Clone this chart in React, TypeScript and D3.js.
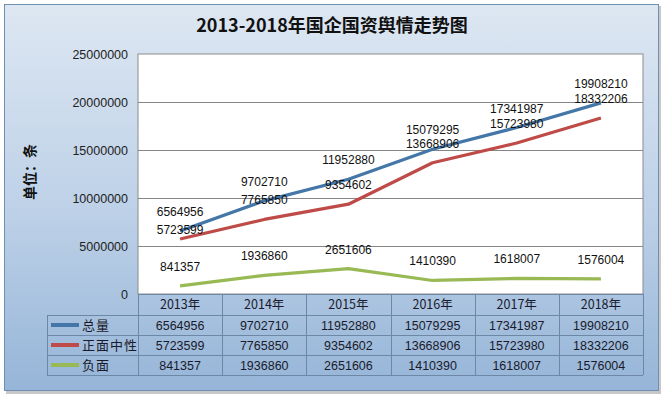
import { useRef, useEffect } from 'react';
import * as d3 from 'd3';

// chart data
const years = ['2013年', '2014年', '2015年', '2016年', '2017年', '2018年'];
const total = [6564956, 9702710, 11952880, 15079295, 17341987, 19908210];
const neutral = [5723599, 7765850, 9354602, 13668906, 15723980, 18332206];
const negative = [841357, 1936860, 2651606, 1410390, 1618007, 1576004];
const yTicks = [0, 5000000, 10000000, 15000000, 20000000, 25000000];

const series = [
  { name: '总量', values: total, color: '#4476A8' },
  { name: '正面中性', values: neutral, color: '#BE4B48' },
  { name: '负面', values: negative, color: '#98B954' },
];

const W = 664;
const H = 397;
const NUM_FONT = '"Liberation Sans", Arial, sans-serif';
const CJK_FONT = '"Noto Sans CJK SC", "Liberation Sans", sans-serif';

export default function App() {
  const ref = useRef<SVGSVGElement | null>(null);

  useEffect(() => {
    if (!ref.current) return;
    const svg = d3.select(ref.current);
    svg.selectAll('*').remove();

    const plot = { left: 138, right: 643, top: 54, bottom: 294 };
    const rowH = 20;
    const headerBottom = 315;
    const legendLeft = 47;

    // background gradient
    const defs = svg.append('defs');
    const bg = defs.append('linearGradient')
      .attr('id', 'bg').attr('x1', 0).attr('y1', 0).attr('x2', 0).attr('y2', 1);
    bg.append('stop').attr('offset', '0%').attr('stop-color', '#DDE7F2');
    bg.append('stop').attr('offset', '55%').attr('stop-color', '#BCD0E7');
    bg.append('stop').attr('offset', '100%').attr('stop-color', '#96B5D8');

    svg.append('rect').attr('width', W).attr('height', H).attr('fill', '#fff');
    // shadow + frame
    svg.append('rect')
      .attr('x', 6).attr('y', 6).attr('width', 655).attr('height', 388)
      .attr('fill', '#c8c8c8');
    svg.append('rect')
      .attr('x', 4.5).attr('y', 4.5).attr('width', 654).attr('height', 386)
      .attr('fill', 'url(#bg)').attr('stroke', '#6f8fb3').attr('stroke-width', 1);

    // title
    svg.append('text')
      .attr('x', 332).attr('y', 32)
      .attr('text-anchor', 'middle')
      .attr('font-family', CJK_FONT).attr('font-weight', 'bold').attr('font-size', 18)
      .attr('fill', '#111')
      .text('2013-2018年国企国资舆情走势图');

    // y axis title
    svg.append('text')
      .attr('transform', 'translate(35,172) rotate(-90)')
      .attr('text-anchor', 'middle')
      .attr('font-family', CJK_FONT).attr('font-weight', 'bold').attr('font-size', 14)
      .attr('fill', '#111')
      .text('单位：条');

    const x = d3.scaleBand().domain(years).range([plot.left, plot.right]);
    const y = d3.scaleLinear().domain([0, 25000000]).range([plot.bottom, plot.top]);

    // plot area
    svg.append('rect')
      .attr('x', plot.left).attr('y', plot.top)
      .attr('width', plot.right - plot.left).attr('height', plot.bottom - plot.top)
      .attr('fill', '#fff').attr('stroke', '#8c8c8c');

    const yAxis = svg.append('g')
      .attr('transform', `translate(${plot.left},0)`)
      .call(d3.axisLeft(y).tickValues(yTicks).tickSize(0).tickPadding(10).tickFormat(d3.format('d')));
    yAxis.select('.domain').remove();
    yAxis.selectAll('text')
      .attr('font-family', NUM_FONT).attr('font-size', 12.5).attr('fill', '#222');

    svg.append('g')
      .selectAll('line')
      .data(yTicks.slice(1, -1))
      .join('line')
      .attr('x1', plot.left).attr('x2', plot.right)
      .attr('y1', d => Math.round(y(d)) + 0.5).attr('y2', d => Math.round(y(d)) + 0.5)
      .attr('stroke', '#868686');

    const cx = (i: number) => (x(years[i]) as number) + x.bandwidth() / 2;

    const line = d3.line<number>()
      .x((_, i) => cx(i))
      .y(d => y(d));

    series.forEach(s => {
      svg.append('path')
        .datum(s.values)
        .attr('d', line)
        .attr('fill', 'none')
        .attr('stroke', s.color)
        .attr('stroke-width', 3.2)
        .attr('stroke-linejoin', 'round');
    });

    // data labels
    series.forEach((s, si) => {
      svg.append('g')
        .selectAll('text')
        .data(s.values)
        .join('text')
        .attr('x', (_, i) => cx(i))
        .attr('y', (d, i) => y(d) - (si === 1 && i === 0 ? 5 : 15))
        .attr('text-anchor', 'middle')
        .attr('font-family', NUM_FONT).attr('font-size', 12).attr('fill', '#111')
        .text(d => String(d));
    });

    // data table
    const table = svg.append('g');
    const tableStroke = '#6d87a6';
    const tableBottom = headerBottom + rowH * series.length;

    // horizontal lines
    table.append('line')
      .attr('x1', plot.left).attr('x2', plot.right)
      .attr('y1', plot.bottom + 0.5).attr('y2', plot.bottom + 0.5)
      .attr('stroke', tableStroke);
    d3.range(series.length + 1).forEach(r => {
      const yy = headerBottom + r * rowH + 0.5;
      table.append('line')
        .attr('x1', legendLeft).attr('x2', plot.right)
        .attr('y1', yy).attr('y2', yy)
        .attr('stroke', tableStroke);
    });
    // vertical lines
    years.forEach((yr) => {
      const xx = Math.round(x(yr) as number) + 0.5;
      table.append('line')
        .attr('x1', xx).attr('x2', xx)
        .attr('y1', plot.bottom).attr('y2', tableBottom)
        .attr('stroke', tableStroke);
    });
    table.append('line')
      .attr('x1', plot.right + 0.5).attr('x2', plot.right + 0.5)
      .attr('y1', plot.bottom).attr('y2', tableBottom)
      .attr('stroke', tableStroke);
    table.append('line')
      .attr('x1', legendLeft + 0.5).attr('x2', legendLeft + 0.5)
      .attr('y1', headerBottom).attr('y2', tableBottom)
      .attr('stroke', tableStroke);

    // header
    table.append('g')
      .selectAll('text')
      .data(years)
      .join('text')
      .attr('x', (_, i) => cx(i))
      .attr('y', plot.bottom + 15)
      .attr('text-anchor', 'middle')
      .attr('font-family', CJK_FONT).attr('font-size', 12.5).attr('fill', '#1a1a2a')
      .text(d => d);

    series.forEach((s, si) => {
      const rowTop = headerBottom + si * rowH;
      table.append('line')
        .attr('x1', legendLeft + 4).attr('x2', legendLeft + 32)
        .attr('y1', rowTop + 10).attr('y2', rowTop + 10)
        .attr('stroke', s.color).attr('stroke-width', 4);
      table.append('text')
        .attr('x', legendLeft + 35).attr('y', rowTop + 15)
        .attr('font-family', CJK_FONT).attr('font-size', 13).attr('letter-spacing', 1)
        .attr('fill', '#1a1a2a')
        .text(s.name);
      table.append('g')
        .selectAll('text')
        .data(s.values)
        .join('text')
        .attr('x', (_, i) => cx(i))
        .attr('y', rowTop + 15)
        .attr('text-anchor', 'middle')
        .attr('font-family', NUM_FONT).attr('font-size', 12.5).attr('fill', '#1a1a2a')
        .text(d => String(d));
    });
  }, []);

  return (
    <svg
      ref={ref}
      width={W}
      height={H}
      style={{ position: 'absolute', left: 0, top: 0, display: 'block' }}
    />
  );
}
